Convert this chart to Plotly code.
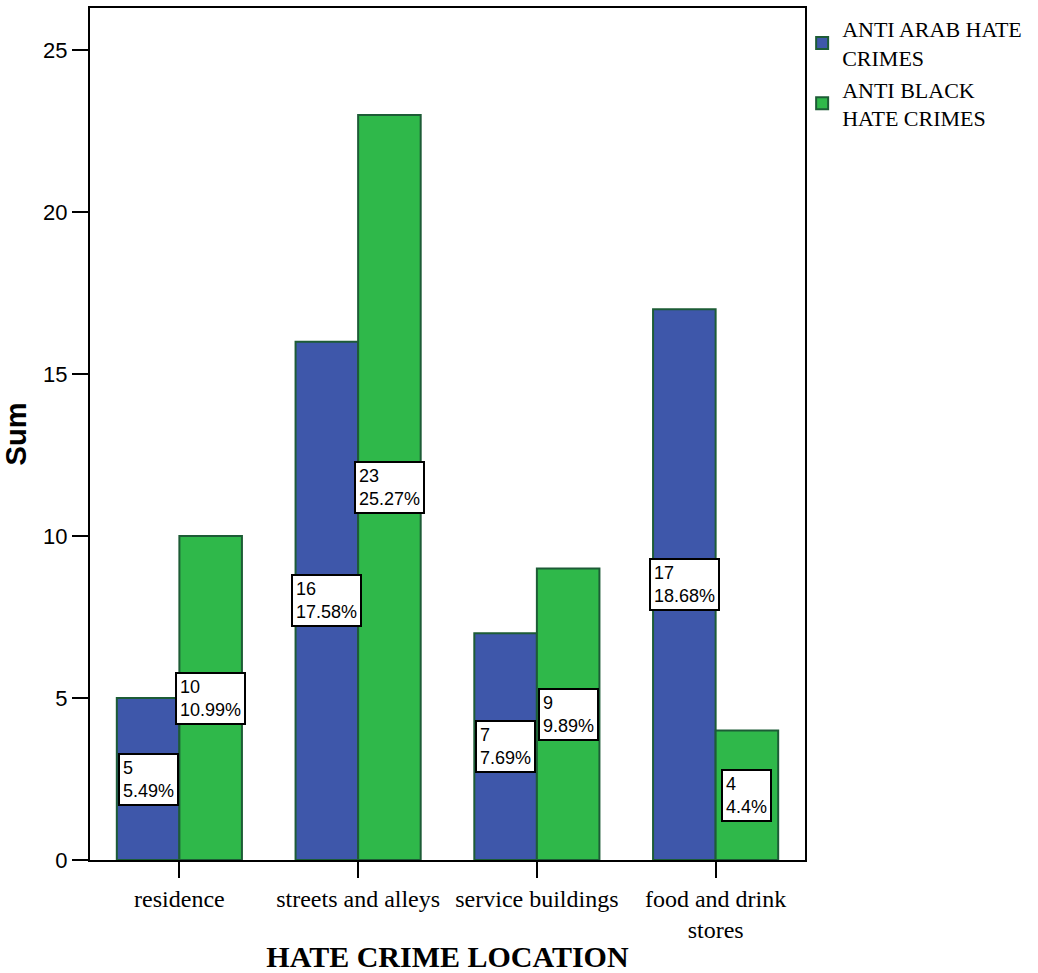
import plotly.graph_objects as go

# Hate crime counts by location
locations = ["residence", "streets and alleys", "service buildings", "food and drink<br>stores"]
anti_arab = [5, 16, 7, 17]
anti_black = [10, 23, 9, 4]
anti_arab_pct = ["5.49%", "17.58%", "7.69%", "18.68%"]
anti_black_pct = ["10.99%", "25.27%", "9.89%", "4.4%"]
y_ticks = [0, 5, 10, 15, 20, 25]

BLUE = "#3E57AA"
GREEN = "#2FB84A"
EDGE = "#1D5C36"
SERIF = "Liberation Serif, Times New Roman, serif"
SANS = "Liberation Sans, Arial, sans-serif"

fig = go.Figure()
fig.add_trace(go.Bar(
    x=locations, y=anti_arab, name="ANTI ARAB HATE<br>CRIMES",
    marker=dict(color=BLUE, line=dict(color=EDGE, width=2)),
))
fig.add_trace(go.Bar(
    x=locations, y=anti_black, name="ANTI BLACK<br>HATE CRIMES",
    marker=dict(color=GREEN, line=dict(color=EDGE, width=2)),
))

# value / percentage boxes at mid-height of each bar
half = 0.35 / 2
for i in range(len(locations)):
    for vals, pcts, off in ((anti_arab, anti_arab_pct, -half), (anti_black, anti_black_pct, half)):
        fig.add_annotation(
            x=i + off, y=vals[i] / 2, xref="x", yref="y",
            text=f"{vals[i]}<br>{pcts[i]}", showarrow=False, align="left",
            font=dict(family=SANS, size=18, color="black"),
            bgcolor="white", bordercolor="black", borderwidth=2, borderpad=3,
        )

fig.update_layout(
    width=1038, height=973,
    margin=dict(l=90, r=233, t=8, b=113, autoexpand=False),
    plot_bgcolor="white", paper_bgcolor="white",
    barmode="group", bargap=0.3, bargroupgap=0,
    showlegend=True,
    legend=dict(
        x=0.996, y=1.0, xanchor="left", yanchor="top",
        bgcolor="rgba(0,0,0,0)",
        font=dict(family=SERIF, size=22, color="black"),
        itemwidth=30, tracegroupgap=2,
    ),
)
fig.update_xaxes(
    range=[-0.5, 3.5], automargin=False,
    showline=True, linecolor="black", linewidth=2, mirror=True,
    ticks="outside", ticklen=16, tickwidth=2, tickcolor="black",
    tickfont=dict(family=SERIF, size=24, color="black"),
    title=dict(text="<b>HATE CRIME LOCATION</b>", standoff=30,
               font=dict(family=SERIF, size=30, color="black")),
)
fig.update_yaxes(
    range=[0, 26.3], tickvals=y_ticks, automargin=False,
    showline=True, linecolor="black", linewidth=2, mirror=True,
    showgrid=False, zeroline=False,
    ticks="outside", ticklen=16, tickwidth=2, tickcolor="black",
    tickfont=dict(family=SANS, size=22, color="black"),
    title=dict(text="<b>Sum</b>", standoff=9,
               font=dict(family=SANS, size=29, color="black")),
)

fig.write_html("out.html")
